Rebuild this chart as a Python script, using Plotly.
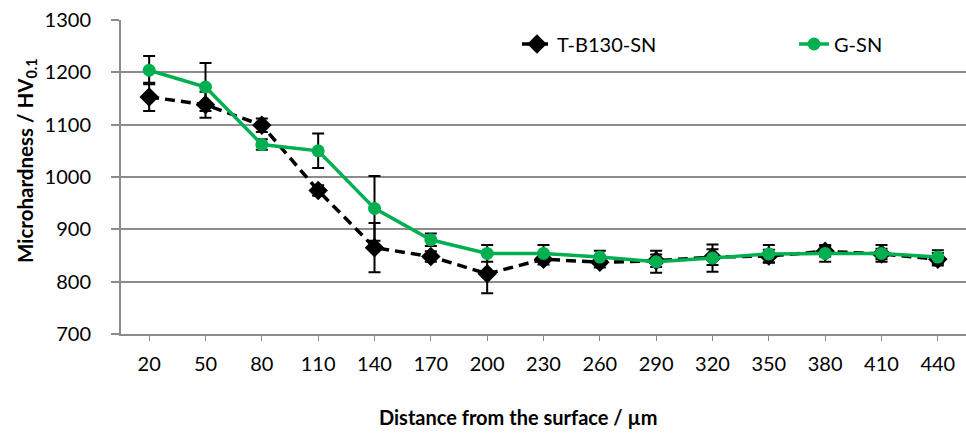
import plotly.graph_objects as go

distance = ["20", "50", "80", "110", "140", "170", "200", "230", "260", "290", "320", "350", "380", "410", "440"]

tb130_sn = [1153, 1138, 1099, 974, 865, 848, 815, 843, 837, 840, 847, 849, 858, 853, 843]
tb130_sn_err = [27, 25, 13, 10, 47, 10, 37, 10, 10, 12, 15, 12, 10, 10, 12]

g_sn = [1204, 1172, 1062, 1050, 940, 880, 854, 854, 847, 838, 845, 853, 854, 854, 847]
g_sn_err = [27, 46, 10, 33, 62, 12, 16, 16, 12, 21, 26, 17, 16, 16, 13]

y_ticks = [700, 800, 900, 1000, 1100, 1200, 1300]

FONT = "Lato"
GRID = "#8c8c8c"
PW = 845
PH = 314

fig = go.Figure()

fig.add_trace(go.Scatter(
    x=distance, y=tb130_sn, name="T-B130-SN", mode="lines+markers",
    line=dict(color="black", width=3.5, dash="10px,6px"),
    marker=dict(symbol="diamond", size=15, color="black"),
    error_y=dict(type="data", array=tb130_sn_err, visible=True, color="black", thickness=2, width=6),
    legend="legend",
))
fig.add_trace(go.Scatter(
    x=distance, y=g_sn, name="G-SN", mode="lines+markers",
    line=dict(color="#00B050", width=3.5),
    marker=dict(symbol="circle", size=13, color="#00B050"),
    error_y=dict(type="data", array=g_sn_err, visible=True, color="black", thickness=2, width=6),
    legend="legend2",
))

leg_common = dict(orientation="h", yanchor="middle", xanchor="left",
                  font=dict(family=FONT, size=20, color="black"),
                  bgcolor="rgba(0,0,0,0)")

fig.update_layout(
    width=966, height=433,
    margin=dict(l=121, r=0, t=20, b=99),
    plot_bgcolor="white", paper_bgcolor="white",
    font=dict(family=FONT, size=20, color="black"),
    showlegend=True,
    legend=dict(x=(517 - 121) / PW, y=(334 - 44) / PH, **leg_common),
    legend2=dict(x=(794 - 121) / PW, y=(334 - 44) / PH, **leg_common),
)

fig.update_xaxes(
    type="category", range=[-0.5, 14.5],
    showgrid=False, showline=True, linecolor=GRID, linewidth=2,
    ticks="outside", ticklen=5, tickcolor=GRID, tickwidth=1,
    ticklabelstandoff=6,
    tickfont=dict(family=FONT, size=20, color="black"),
    zeroline=False,
)
fig.update_yaxes(
    range=[700, 1300], tickvals=y_ticks, ticktext=[str(v) for v in y_ticks],
    showgrid=True, gridcolor=GRID, gridwidth=2,
    showline=True, linecolor=GRID, linewidth=2,
    ticks="outside", ticklen=8, tickcolor=GRID, tickwidth=2,
    ticklabelstandoff=16,
    tickfont=dict(family=FONT, size=20, color="black"),
    zeroline=False,
)

fig.add_annotation(
    text="<b>Distance from the surface / µm</b>", xref="paper", yref="paper",
    x=(518 - 121) / PW, y=-(417 - 334) / PH, xanchor="center", yanchor="middle",
    showarrow=False, font=dict(family=FONT, size=20, color="black"),
)
fig.add_annotation(
    text="<b>Microhardness / HV<sub>0.1</sub></b>", xref="paper", yref="paper",
    x=-(121 - 26) / PW, y=(334 - 161) / PH, xanchor="center", yanchor="middle",
    textangle=-90, showarrow=False, font=dict(family=FONT, size=20.5, color="black"),
)

fig.write_html("out.html")
